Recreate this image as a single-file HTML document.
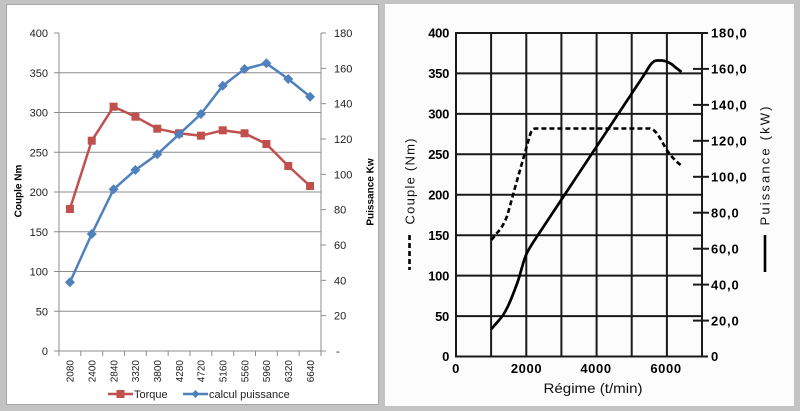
<!DOCTYPE html>
<html><head><meta charset="utf-8"><style>
html,body{margin:0;padding:0;background:#c3c3c3;}
svg{display:block;}
</style></head><body>
<svg width="800" height="411" viewBox="0 0 800 411" xmlns="http://www.w3.org/2000/svg">
<rect x="0" y="0" width="800" height="411" fill="#c3c3c3"/>
<!-- LEFT PANEL -->
<rect x="6.5" y="4.5" width="372" height="400" fill="#ffffff" stroke="#a8a8a8" stroke-width="1"/>
<g stroke="#8c8c8c" stroke-width="1" fill="none">
  <line x1="59" y1="72.75" x2="321" y2="72.75"/>
  <line x1="59" y1="112.5" x2="321" y2="112.5"/>
  <line x1="59" y1="152.25" x2="321" y2="152.25"/>
  <line x1="59" y1="192" x2="321" y2="192"/>
  <line x1="59" y1="231.75" x2="321" y2="231.75"/>
  <line x1="59" y1="271.5" x2="321" y2="271.5"/>
  <line x1="59" y1="311.25" x2="321" y2="311.25"/>
  <line x1="54" y1="351" x2="326" y2="351"/>
  <line x1="59" y1="33" x2="59" y2="356"/>
  <line x1="321" y1="33" x2="321" y2="356"/>
  <!-- left ticks -->
  <line x1="54" y1="33" x2="59" y2="33"/>
  <line x1="54" y1="72.75" x2="59" y2="72.75"/>
  <line x1="54" y1="112.5" x2="59" y2="112.5"/>
  <line x1="54" y1="152.25" x2="59" y2="152.25"/>
  <line x1="54" y1="192" x2="59" y2="192"/>
  <line x1="54" y1="231.75" x2="59" y2="231.75"/>
  <line x1="54" y1="271.5" x2="59" y2="271.5"/>
  <line x1="54" y1="311.25" x2="59" y2="311.25"/>
  <!-- right ticks -->
  <line x1="321" y1="33" x2="326" y2="33"/>
  <line x1="321" y1="68.33" x2="326" y2="68.33"/>
  <line x1="321" y1="103.67" x2="326" y2="103.67"/>
  <line x1="321" y1="139" x2="326" y2="139"/>
  <line x1="321" y1="174.33" x2="326" y2="174.33"/>
  <line x1="321" y1="209.67" x2="326" y2="209.67"/>
  <line x1="321" y1="245" x2="326" y2="245"/>
  <line x1="321" y1="280.33" x2="326" y2="280.33"/>
  <line x1="321" y1="315.67" x2="326" y2="315.67"/>
  <!-- x ticks -->
  <line x1="80.83" y1="351" x2="80.83" y2="356"/>
  <line x1="102.67" y1="351" x2="102.67" y2="356"/>
  <line x1="124.5" y1="351" x2="124.5" y2="356"/>
  <line x1="146.33" y1="351" x2="146.33" y2="356"/>
  <line x1="168.17" y1="351" x2="168.17" y2="356"/>
  <line x1="190" y1="351" x2="190" y2="356"/>
  <line x1="211.83" y1="351" x2="211.83" y2="356"/>
  <line x1="233.67" y1="351" x2="233.67" y2="356"/>
  <line x1="255.5" y1="351" x2="255.5" y2="356"/>
  <line x1="277.33" y1="351" x2="277.33" y2="356"/>
  <line x1="299.17" y1="351" x2="299.17" y2="356"/>
</g>
<g font-family="'Liberation Sans', sans-serif" font-size="11" fill="#1e1e1e">
  <g text-anchor="end">
    <text x="48" y="37">400</text>
    <text x="48" y="76.75">350</text>
    <text x="48" y="116.5">300</text>
    <text x="48" y="156.25">250</text>
    <text x="48" y="196">200</text>
    <text x="48" y="235.75">150</text>
    <text x="48" y="275.5">100</text>
    <text x="48" y="315.25">50</text>
    <text x="48" y="355">0</text>
  </g>
  <g text-anchor="start">
    <text x="334" y="37">180</text>
    <text x="334" y="72.33">160</text>
    <text x="334" y="107.67">140</text>
    <text x="334" y="143">120</text>
    <text x="334" y="178.33">100</text>
    <text x="334" y="213.67">80</text>
    <text x="334" y="249">60</text>
    <text x="334" y="284.33">40</text>
    <text x="334" y="319.67">20</text>
    <text x="336" y="355">-</text>
  </g>
  <g font-size="10" text-anchor="end">
    <text transform="translate(73.7,360) rotate(-90)">2080</text>
    <text transform="translate(95.5,360) rotate(-90)">2400</text>
    <text transform="translate(117.4,360) rotate(-90)">2840</text>
    <text transform="translate(139.2,360) rotate(-90)">3320</text>
    <text transform="translate(161,360) rotate(-90)">3800</text>
    <text transform="translate(182.9,360) rotate(-90)">4280</text>
    <text transform="translate(204.7,360) rotate(-90)">4720</text>
    <text transform="translate(226.5,360) rotate(-90)">5160</text>
    <text transform="translate(248.4,360) rotate(-90)">5560</text>
    <text transform="translate(270.2,360) rotate(-90)">5960</text>
    <text transform="translate(292,360) rotate(-90)">6320</text>
    <text transform="translate(313.9,360) rotate(-90)">6640</text>
  </g>
  <text x="134" y="398">Torque</text>
  <text x="209" y="398">calcul puissance</text>
  <g font-size="10" font-weight="bold" fill="#000" text-anchor="middle">
    <text transform="translate(21.5,191) rotate(-90)">Couple Nm</text>
    <text transform="translate(373.5,192) rotate(-90)">Puissance Kw</text>
  </g>
</g>
<!-- Torque series -->
<polyline fill="none" stroke="#c0504d" stroke-width="2.5" stroke-linejoin="round"
 points="69.92,209 91.75,140.7 113.58,106.7 135.42,116.7 157.25,128.7 179.08,133.3 200.92,135.7 222.75,130.3 244.58,133.3 266.42,144 288.25,166 310.08,186"/>
<g fill="#c0504d">
  <rect x="65.92" y="205" width="8" height="8"/>
  <rect x="87.75" y="136.7" width="8" height="8"/>
  <rect x="109.58" y="102.7" width="8" height="8"/>
  <rect x="131.42" y="112.7" width="8" height="8"/>
  <rect x="153.25" y="124.7" width="8" height="8"/>
  <rect x="175.08" y="129.3" width="8" height="8"/>
  <rect x="196.92" y="131.7" width="8" height="8"/>
  <rect x="218.75" y="126.3" width="8" height="8"/>
  <rect x="240.58" y="129.3" width="8" height="8"/>
  <rect x="262.42" y="140" width="8" height="8"/>
  <rect x="284.25" y="162" width="8" height="8"/>
  <rect x="306.08" y="182" width="8" height="8"/>
</g>
<!-- Power series -->
<polyline fill="none" stroke="#4f81bd" stroke-width="2.5" stroke-linejoin="round"
 points="69.92,282.3 91.75,234 113.58,189.3 135.42,170 157.25,154.3 179.08,134.3 200.92,114 222.75,85.7 244.58,69 266.42,63.3 288.25,79 310.08,96.7"/>
<g fill="#4f81bd">
  <path d="M69.92,277.3 l5,5 l-5,5 l-5,-5z"/>
  <path d="M91.75,229 l5,5 l-5,5 l-5,-5z"/>
  <path d="M113.58,184.3 l5,5 l-5,5 l-5,-5z"/>
  <path d="M135.42,165 l5,5 l-5,5 l-5,-5z"/>
  <path d="M157.25,149.3 l5,5 l-5,5 l-5,-5z"/>
  <path d="M179.08,129.3 l5,5 l-5,5 l-5,-5z"/>
  <path d="M200.92,109 l5,5 l-5,5 l-5,-5z"/>
  <path d="M222.75,80.7 l5,5 l-5,5 l-5,-5z"/>
  <path d="M244.58,64 l5,5 l-5,5 l-5,-5z"/>
  <path d="M266.42,58.3 l5,5 l-5,5 l-5,-5z"/>
  <path d="M288.25,74 l5,5 l-5,5 l-5,-5z"/>
  <path d="M310.08,91.7 l5,5 l-5,5 l-5,-5z"/>
</g>
<!-- legend -->
<line x1="108" y1="394" x2="133" y2="394" stroke="#c0504d" stroke-width="2.5"/>
<rect x="116.5" y="390" width="8" height="8" fill="#c0504d"/>
<line x1="183" y1="394" x2="208" y2="394" stroke="#4f81bd" stroke-width="2.5"/>
<path d="M195.5,390 l4,4 l-4,4 l-4,-4z" fill="#4f81bd"/>

<!-- RIGHT PANEL -->
<rect x="385" y="4" width="409" height="402" fill="#fcfcfc"/>
<g stroke="#1a1a1a" stroke-width="2" fill="none">
  <line x1="456" y1="33" x2="708" y2="33"/>
  <line x1="456" y1="73.4" x2="702" y2="73.4"/>
  <line x1="456" y1="113.9" x2="702" y2="113.9"/>
  <line x1="456" y1="154.3" x2="702" y2="154.3"/>
  <line x1="456" y1="194.8" x2="702" y2="194.8"/>
  <line x1="456" y1="235.2" x2="702" y2="235.2"/>
  <line x1="456" y1="275.6" x2="702" y2="275.6"/>
  <line x1="456" y1="316.1" x2="702" y2="316.1"/>
  <line x1="456" y1="356.5" x2="708" y2="356.5"/>
  <line x1="456" y1="32" x2="456" y2="357.5"/>
  <line x1="491.1" y1="33" x2="491.1" y2="356.5"/>
  <line x1="526.3" y1="33" x2="526.3" y2="356.5"/>
  <line x1="561.4" y1="33" x2="561.4" y2="356.5"/>
  <line x1="596.6" y1="33" x2="596.6" y2="356.5"/>
  <line x1="631.7" y1="33" x2="631.7" y2="356.5"/>
  <line x1="666.9" y1="33" x2="666.9" y2="356.5"/>
  <line x1="702" y1="32" x2="702" y2="357.5"/>
  <!-- right ticks -->
  <line x1="693" y1="68.9" x2="709" y2="68.9"/>
  <line x1="693" y1="104.9" x2="709" y2="104.9"/>
  <line x1="693" y1="140.8" x2="709" y2="140.8"/>
  <line x1="693" y1="176.8" x2="709" y2="176.8"/>
  <line x1="693" y1="212.7" x2="709" y2="212.7"/>
  <line x1="693" y1="248.7" x2="709" y2="248.7"/>
  <line x1="693" y1="284.6" x2="709" y2="284.6"/>
  <line x1="693" y1="320.6" x2="709" y2="320.6"/>
</g>
<!-- torque dashed -->
<path d="M491.5,240 L497,233 C502,228 506,220 508,213 L518,177 L530,135 C531.5,130 533,128.5 536,128.5 L650,128.5 C656,129.5 660,138 665,147 C669,154 675,161 682,166"
 fill="none" stroke="#000" stroke-width="2.6" stroke-dasharray="5 3"/>
<!-- power solid -->
<path d="M491.5,329 C497,322 503,317 506,310 C510,303 514,292 518,281 C521,272 523,262 526,255 C529,248 534,241 538,235 L645,73.5 C649,67 652,60.5 657,60.5 L662,60.5 C667,61 672,64 675,67 L681.5,72"
 fill="none" stroke="#000" stroke-width="2.7" stroke-linejoin="round"/>
<g font-family="'Liberation Sans', sans-serif" font-weight="bold" font-size="13" fill="#000">
  <g text-anchor="end" letter-spacing="-0.3">
    <text x="449" y="37.7">400</text>
    <text x="449" y="78.1">350</text>
    <text x="449" y="118.6">300</text>
    <text x="449" y="159">250</text>
    <text x="449" y="199.5">200</text>
    <text x="449" y="239.9">150</text>
    <text x="449" y="280.3">100</text>
    <text x="449" y="320.8">50</text>
    <text x="449" y="361.2">0</text>
  </g>
  <g text-anchor="start" letter-spacing="0.8">
    <text x="711" y="37.7">180,0</text>
    <text x="711" y="73.6">160,0</text>
    <text x="711" y="109.6">140,0</text>
    <text x="711" y="145.5">120,0</text>
    <text x="711" y="181.5">100,0</text>
    <text x="711" y="217.4">80,0</text>
    <text x="711" y="253.4">60,0</text>
    <text x="711" y="289.3">40,0</text>
    <text x="711" y="325.3">20,0</text>
    <text x="711" y="361.2">0</text>
  </g>
  <g text-anchor="middle" letter-spacing="0.6">
    <text x="456" y="373">0</text>
    <text x="526.5" y="373">2000</text>
    <text x="596" y="373">4000</text>
    <text x="666" y="373">6000</text>
  </g>
</g>
<g font-family="'Liberation Sans', sans-serif" fill="#111" text-anchor="middle">
  <text x="593" y="393" font-size="14" textLength="99" lengthAdjust="spacingAndGlyphs">Régime (t/min)</text>
  <text transform="translate(414.5,181.5) rotate(-90)" font-size="13" textLength="86" lengthAdjust="spacing">Couple (Nm)</text>
  <text transform="translate(769.5,166) rotate(-90)" font-size="13" textLength="119" lengthAdjust="spacing">Puissance (kW)</text>
</g>
<line x1="409.5" y1="235" x2="409.5" y2="270" stroke="#000" stroke-width="2.6" stroke-dasharray="5 3"/>
<line x1="765" y1="235" x2="765" y2="272" stroke="#000" stroke-width="2.6"/>
</svg>
</body></html>
